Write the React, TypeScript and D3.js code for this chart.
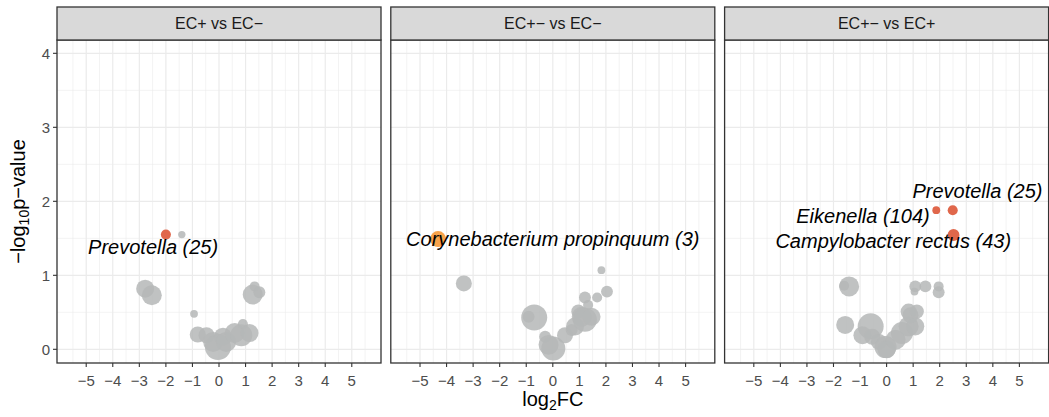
import React from "react";
import * as d3 from "d3";

// ---- data ----
const panelTitles = ["EC+ vs EC\u2212", "EC+\u2212 vs EC\u2212", "EC+\u2212 vs EC+"];
const xTicks = [-5, -4, -3, -2, -1, 0, 1, 2, 3, 4, 5];
const yTicks = [0, 1, 2, 3, 4];

// each point: [log2FC, -log10p, size, group] ; group 0 = n.s., 1 = red, 2 = orange
const panel1Points: [number, number, number, number][] = [
  [-2.78, 0.82, 4.8, 0],
  [-2.53, 0.73, 5.9, 0],
  [-1.4, 1.55, 0.8, 0],
  [-0.94, 0.48, 0.9, 0],
  [-0.8, 0.2, 3.8, 0],
  [-0.47, 0.19, 3.8, 0],
  [-0.22, 0.1, 5.9, 0],
  [-0.04, 0.03, 10, 0],
  [0.15, 0.17, 4.8, 0],
  [0.27, 0.1, 5.9, 0],
  [0.59, 0.22, 5.9, 0],
  [0.84, 0.19, 7.2, 0],
  [0.9, 0.34, 1.5, 0],
  [1.15, 0.22, 4.8, 0],
  [1.27, 0.74, 5.9, 0],
  [1.34, 0.85, 1.5, 0],
  [1.52, 0.77, 2.1, 0],
  [-2.0, 1.55, 1.5, 1],
];
const panel2Points: [number, number, number, number][] = [
  [-3.35, 0.89, 3.8, 0],
  [-0.91, 0.44, 2.1, 0],
  [-0.7, 0.43, 10, 0],
  [-0.29, 0.17, 2.1, 0],
  [-0.16, 0.06, 5.9, 0],
  [0.02, 0.01, 8.5, 0],
  [0.46, 0.19, 3.8, 0],
  [0.71, 0.26, 2.1, 0],
  [0.84, 0.31, 4.8, 0],
  [0.96, 0.51, 2.9, 0],
  [1.09, 0.44, 5.9, 0],
  [1.21, 0.4, 8.5, 0],
  [1.46, 0.44, 4.8, 0],
  [1.21, 0.7, 2.1, 0],
  [1.33, 0.6, 1.5, 0],
  [1.67, 0.7, 1.5, 0],
  [2.04, 0.78, 2.1, 0],
  [1.83, 1.07, 0.9, 0],
  [-4.32, 1.49, 3.8, 2],
];
const panel3Points: [number, number, number, number][] = [
  [-1.6, 0.86, 1.5, 0],
  [-1.41, 0.85, 5.9, 0],
  [-1.56, 0.33, 4.8, 0],
  [-0.6, 0.31, 10, 0],
  [-0.91, 0.19, 4.8, 0],
  [-0.54, 0.17, 3.8, 0],
  [-0.29, 0.1, 3.8, 0],
  [-0.04, 0.03, 7.2, 0],
  [0.0, 0.0, 4.8, 0],
  [0.34, 0.13, 5.9, 0],
  [0.58, 0.22, 7.2, 0],
  [0.83, 0.31, 5.9, 0],
  [1.08, 0.31, 4.8, 0],
  [0.9, 0.46, 3.8, 0],
  [0.83, 0.51, 3.8, 0],
  [1.14, 0.51, 2.9, 0],
  [1.08, 0.85, 2.1, 0],
  [1.05, 0.78, 0.9, 0],
  [1.46, 0.85, 2.1, 0],
  [1.96, 0.85, 1.5, 0],
  [1.96, 0.77, 2.1, 0],
  [1.87, 1.88, 0.9, 1],
  [2.49, 1.88, 1.5, 1],
  [2.52, 1.545, 2.1, 1],
];
const panelPoints = [panel1Points, panel2Points, panel3Points];

// labels: [x, y, text]
const panel1Labels: [number, number, string][] = [[-2.48, 1.38, "Prevotella (25)"]];
const panel2Labels: [number, number, string][] = [[0.0, 1.49, "Corynebacterium propinquum (3)"]];
const panel3Labels: [number, number, string][] = [
  [3.42, 2.14, "Prevotella (25)"],
  [-0.89, 1.8, "Eikenella (104)"],
  [0.25, 1.46, "Campylobacter rectus (43)"],
];
const panelLabels = [panel1Labels, panel2Labels, panel3Labels];

const groupColors = ["#B5B7B7", "#E0674B", "#F7A24A"];

// ---- layout ----
const W = 1049;
const H = 417;
const left0 = 57;
const pw = 324;
const gap = 9.8;
const stripTop = 7;
const panelTop = 40;
const panelBottom = 363;
const font = "'Liberation Sans', Arial, Helvetica, sans-serif";

const yScale = d3.scaleLinear().domain([-0.185, 4.18]).range([panelBottom, panelTop]);
const rScale = d3.scaleSqrt().domain([0, 10]).range([0, 13]);
const yMinor = [0.5, 1.5, 2.5, 3.5];
const xMinor = d3.range(-5.5, 6, 1);

const fmt = (v: number) => (v < 0 ? "\u2212" + Math.abs(v) : String(v));

export default function App() {
  return (
    <svg width={W} height={H} style={{ display: "block", position: "absolute", left: 0, top: 0 }} fontFamily={font}>
      <rect x={0} y={0} width={W} height={H} fill="#fff" />
      {panelTitles.map((title, pi) => {
        const left = left0 + pi * (pw + gap);
        const x = d3.scaleLinear().domain([-6.1, 6.1]).range([left, left + pw]);
        const pts = panelPoints[pi].slice().sort((a, b) => a[3] - b[3]);
        return (
          <g key={pi}>
            {/* grid */}
            {xMinor.map((v) => (
              <line key={"xm" + v} x1={x(v)} x2={x(v)} y1={panelTop} y2={panelBottom} stroke="#EBEBEB" strokeWidth={0.6} />
            ))}
            {yMinor.map((v) => (
              <line key={"ym" + v} x1={left} x2={left + pw} y1={yScale(v)} y2={yScale(v)} stroke="#EBEBEB" strokeWidth={0.6} />
            ))}
            {xTicks.map((v) => (
              <line key={"xM" + v} x1={x(v)} x2={x(v)} y1={panelTop} y2={panelBottom} stroke="#EBEBEB" strokeWidth={1.2} />
            ))}
            {yTicks.map((v) => (
              <line key={"yM" + v} x1={left} x2={left + pw} y1={yScale(v)} y2={yScale(v)} stroke="#EBEBEB" strokeWidth={1.2} />
            ))}
            {/* points */}
            {pts.map((p, i) => (
              <circle
                key={i}
                cx={x(p[0])}
                cy={yScale(p[1])}
                r={rScale(p[2])}
                fill={groupColors[p[3]]}
                fillOpacity={p[3] === 0 ? 0.85 : 1}
              />
            ))}
            {/* labels */}
            {panelLabels[pi].map((l, i) => (
              <text
                key={"l" + i}
                x={x(l[0])}
                y={yScale(l[1])}
                textAnchor="middle"
                dominantBaseline="central"
                fontStyle="italic"
                fontSize={20}
                fill="#000"
              >
                {l[2]}
              </text>
            ))}
            {/* border */}
            <rect x={left} y={panelTop} width={pw} height={panelBottom - panelTop} fill="none" stroke="#333333" strokeWidth={1.3} />
            {/* strip */}
            <rect x={left} y={stripTop} width={pw} height={panelTop - stripTop} fill="#D9D9D9" stroke="#333333" strokeWidth={1.3} />
            <text x={left + pw / 2} y={(stripTop + panelTop) / 2} textAnchor="middle" dominantBaseline="central" fontSize={16} fill="#1A1A1A">
              {title}
            </text>
            {/* x axis ticks */}
            {xTicks.map((v) => (
              <g key={"xt" + v}>
                <line x1={x(v)} x2={x(v)} y1={panelBottom} y2={panelBottom + 4} stroke="#333333" strokeWidth={1.1} />
                <text x={x(v)} y={380} textAnchor="middle" dominantBaseline="central" fontSize={15} fill="#4D4D4D">
                  {fmt(v)}
                </text>
              </g>
            ))}
          </g>
        );
      })}
      {/* y axis */}
      {yTicks.map((v) => (
        <g key={"yt" + v}>
          <line x1={left0 - 4} x2={left0} y1={yScale(v)} y2={yScale(v)} stroke="#333333" strokeWidth={1.1} />
          <text x={left0 - 7} y={yScale(v)} textAnchor="end" dominantBaseline="central" fontSize={15} fill="#4D4D4D">
            {v}
          </text>
        </g>
      ))}
      {/* axis titles */}
      <text x={left0 + (3 * pw + 2 * gap) / 2} y={406} textAnchor="middle" fontSize={20} fill="#000">
        log<tspan fontSize={14} dy={4}>2</tspan><tspan dy={-4}>FC</tspan>
      </text>
      <text
        transform={`translate(25, ${(panelTop + panelBottom) / 2}) rotate(-90)`}
        textAnchor="middle"
        fontSize={20}
        fill="#000"
      >
        {"\u2212log"}<tspan fontSize={14} dy={4}>10</tspan><tspan dy={-4}>{"p\u2212value"}</tspan>
      </text>
    </svg>
  );
}
